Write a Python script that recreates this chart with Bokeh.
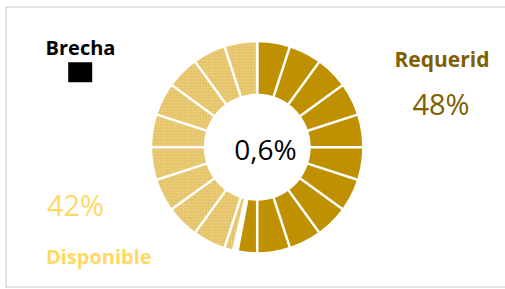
import math
from bokeh.plotting import figure
from bokeh.models import Range1d
from bokeh.core.properties import value
from bokeh.embed import file_html
from bokeh.resources import INLINE

# ---- data ----
categories = ["Requerid", "Brecha", "Disponible"]
values = [48.0, 0.6, 42.0]
value_labels = ["48%", "0,6%", "42%"]
grid_segments = 20

W, H = 505, 289
p = figure(width=W, height=H, output_backend="svg", toolbar_location=None,
           x_range=Range1d(0, W), y_range=Range1d(0, H), min_border=0)
p.axis.visible = False
p.grid.visible = False
p.outline_line_color = None
p.background_fill_color = "white"
p.border_fill_color = "white"

# chart area border
p.quad(left=[5.5], right=[515], bottom=[2.5], top=[282.5],
       fill_color=None, line_color="#D9D9D9", line_width=1.5)

cx, cy = 256.7, 142.3
r_out, r_in = 105, 53.5

total = sum(values)
fills = ["#BF9000", None, "#EACB76"]
cum = 0.0
bounds = []
for cat, v, fc in zip(categories, values, fills):
    f0 = cum / total
    cum += v
    f1 = cum / total
    bounds.append(f0)
    if fc is None:
        continue
    kw = {}
    if cat == "Disponible":
        kw = dict(hatch_pattern="dot", hatch_color="#C9A43F", hatch_scale=3,
                  hatch_alpha=0.6)
    p.annular_wedge(x=[cx], y=[cy], inner_radius=r_in, outer_radius=r_out,
                    start_angle=math.pi / 2 - 2 * math.pi * f0,
                    end_angle=math.pi / 2 - 2 * math.pi * f1,
                    direction="clock", fill_color=fc, line_color=None, **kw)

# white separators: every grid segment and at slice boundaries
fracs = [k / grid_segments for k in range(grid_segments)] + bounds
x0, y0, x1, y1 = [], [], [], []
for f in fracs:
    a = math.pi / 2 - 2 * math.pi * f
    x0.append(cx + (r_in - 2) * math.cos(a)); y0.append(cy + (r_in - 2) * math.sin(a))
    x1.append(cx + (r_out + 2) * math.cos(a)); y1.append(cy + (r_out + 2) * math.sin(a))
p.segment(x0=x0, y0=y0, x1=x1, y1=y1, line_color="white", line_width=2.5)

font = value("Open Sans")
dy = 9.5
# center value (Brecha)
p.text(x=[265], y=[130.7 + dy], text=[value_labels[1]], text_font=font,
       text_font_size="28px", text_color="black", text_align="center",
       text_baseline="alphabetic")
# Requerid
p.text(x=[441.5], y=[220.7 + dy], text=[categories[0]], text_font=font,
       text_font_size="21px", text_font_style="bold", text_color="#7F6000",
       text_align="center", text_baseline="alphabetic")
p.text(x=[440.5], y=[176.3 + dy], text=[value_labels[0]], text_font=font,
       text_font_size="29px", text_color="#7F6000",
       text_align="center", text_baseline="alphabetic")
# Disponible
p.text(x=[75], y=[75.7 + dy], text=[value_labels[2]], text_font=font,
       text_font_size="29px", text_color="#FFD966",
       text_align="center", text_baseline="alphabetic")
p.text(x=[98.3], y=[24 + dy], text=[categories[2]], text_font=font,
       text_font_size="20px", text_font_style="bold", text_color="#FFD966",
       text_align="center", text_baseline="alphabetic")
# Brecha legend
p.text(x=[80], y=[232.3 + dy], text=[categories[1]], text_font=font,
       text_font_size="20px", text_font_style="bold", text_color="black",
       text_align="center", text_baseline="alphabetic")
p.rect(x=[79.7], y=[217.3], width=24, height=20, fill_color="black", line_color=None)

open("out.html", "w").write(file_html(p, INLINE))
